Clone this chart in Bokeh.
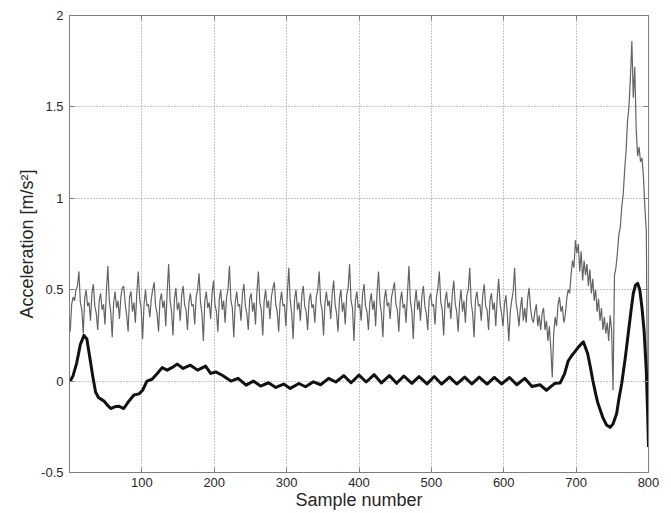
from bokeh.plotting import figure
from bokeh.models import Range1d, FixedTicker, LinearAxis, CustomJSTickFormatter
from bokeh.embed import file_html
from bokeh.resources import INLINE

X_TICKS = [100, 200, 300, 400, 500, 600, 700, 800]
Y_TICKS = [-0.5, 0, 0.5, 1, 1.5, 2]
X_LABEL = "Sample number"
Y_LABEL = "Acceleration [m/s\u00b2]"

# raw acceleration (grey), one value every 2 samples starting at sample 1
GRAY_START = 1
GRAY_STEP = 2
GRAY = [
    0.27, 0.42, 0.46, 0.44, 0.50, 0.52,
    0.60, 0.43, 0.39, 0.26, 0.45, 0.50, 0.41, 0.43, 0.33, 0.48,
    0.53, 0.41, 0.37, 0.28, 0.44, 0.48, 0.39, 0.42, 0.31, 0.49,
    0.63, 0.44, 0.38, 0.24, 0.43, 0.49, 0.40, 0.44, 0.34, 0.46, 0.51,
    0.52, 0.42, 0.36, 0.27, 0.46, 0.49, 0.38, 0.43, 0.32, 0.48,
    0.60, 0.45, 0.40, 0.23, 0.42, 0.50, 0.41, 0.42, 0.35, 0.45, 0.50,
    0.54, 0.41, 0.37, 0.27, 0.44, 0.48, 0.40, 0.44, 0.30, 0.49,
    0.64, 0.44, 0.38, 0.25, 0.45, 0.51, 0.39, 0.43, 0.33, 0.47,
    0.52, 0.42, 0.39, 0.28, 0.43, 0.48, 0.41, 0.42, 0.31, 0.46, 0.50,
    0.59, 0.43, 0.37, 0.22, 0.44, 0.49, 0.40, 0.43, 0.34, 0.48,
    0.55, 0.42, 0.38, 0.27, 0.45, 0.50, 0.39, 0.44, 0.32, 0.46, 0.50,
    0.63, 0.44, 0.40, 0.24, 0.43, 0.49, 0.41, 0.42, 0.33, 0.48,
    0.53, 0.41, 0.37, 0.28, 0.45, 0.48, 0.38, 0.43, 0.31, 0.49,
    0.60, 0.43, 0.39, 0.25, 0.44, 0.50, 0.40, 0.44, 0.34, 0.46, 0.51,
    0.54, 0.42, 0.38, 0.27, 0.43, 0.49, 0.41, 0.42, 0.30, 0.48,
    0.62, 0.44, 0.37, 0.23, 0.45, 0.50, 0.39, 0.43, 0.33, 0.47,
    0.52, 0.41, 0.38, 0.28, 0.44, 0.48, 0.40, 0.42, 0.32, 0.46, 0.50,
    0.60, 0.43, 0.39, 0.25, 0.43, 0.49, 0.41, 0.44, 0.34, 0.48,
    0.55, 0.42, 0.37, 0.27, 0.45, 0.50, 0.38, 0.43, 0.31, 0.47, 0.51,
    0.64, 0.44, 0.40, 0.22, 0.44, 0.49, 0.40, 0.42, 0.33, 0.48,
    0.53, 0.41, 0.38, 0.28, 0.43, 0.48, 0.39, 0.44, 0.30, 0.49,
    0.60, 0.43, 0.37, 0.24, 0.45, 0.50, 0.41, 0.43, 0.34, 0.46, 0.50,
    0.54, 0.42, 0.39, 0.27, 0.44, 0.49, 0.40, 0.42, 0.32, 0.48,
    0.63, 0.44, 0.38, 0.23, 0.43, 0.50, 0.39, 0.44, 0.33, 0.47,
    0.52, 0.41, 0.37, 0.28, 0.45, 0.48, 0.41, 0.42, 0.31, 0.46, 0.51,
    0.60, 0.43, 0.39, 0.25, 0.44, 0.49, 0.40, 0.43, 0.34, 0.48,
    0.55, 0.42, 0.38, 0.27, 0.43, 0.50, 0.38, 0.44, 0.32, 0.47, 0.50,
    0.62, 0.43, 0.37, 0.24, 0.45, 0.49, 0.41, 0.42, 0.33, 0.47,
    0.53, 0.41, 0.39, 0.28, 0.44, 0.48, 0.39, 0.43, 0.30, 0.46,
    0.56, 0.42, 0.37, 0.30, 0.42, 0.47, 0.36, 0.22, 0.38, 0.44, 0.49,
    0.62, 0.43, 0.38, 0.30, 0.40, 0.46, 0.33, 0.40, 0.32, 0.45,
    0.51, 0.40, 0.34, 0.32, 0.38, 0.42, 0.30, 0.36, 0.28, 0.37,
    0.40, 0.28, 0.33, 0.22, 0.30, 0.18, 0.02, 0.26, 0.35, 0.30,
    0.42, 0.46, 0.38, 0.41, 0.32, 0.36, 0.45, 0.50, 0.48, 0.58,
    0.66, 0.62, 0.77, 0.70, 0.75, 0.60, 0.71, 0.55, 0.66, 0.58,
    0.64, 0.52, 0.61, 0.48, 0.56, 0.44, 0.50, 0.38, 0.45, 0.33,
    0.40, 0.28, 0.35, 0.26, 0.32, 0.22, 0.36, 0.28, -0.05, 0.58,
    0.62, 0.70, 0.80, 0.84, 0.95, 1.02, 1.15, 1.26, 1.42, 1.50,
    1.66, 1.86, 1.55, 1.72, 1.38, 1.23, 1.28, 1.20, 1.22, 1.12,
    0.95, 0.82, -0.32,
]

# filtered acceleration (black)
BLACK_X = [
    1, 5, 10, 15, 20, 24, 28, 32, 36, 40, 44, 48, 52, 57, 63, 68, 75, 82, 89, 96,
    101, 107, 114, 121, 128, 135, 142, 149, 157, 167, 177, 188, 195, 202, 211, 223,
    233, 244, 254, 264, 275, 285, 296, 305, 317, 326, 337, 347, 358, 368, 379, 389,
    400, 410, 421, 431, 442, 452, 462, 473, 483, 494, 504, 514, 525, 535, 546, 556,
    566, 577, 587, 597, 608, 618, 629, 639, 650, 659, 665, 671, 678, 684, 689, 694,
    698, 704, 710, 716, 720, 723, 727, 730, 737, 742, 747, 751, 756, 759, 763, 768,
    772, 776, 779, 782, 785, 788, 791, 794, 797, 799, 800,
]
BLACK_Y = [
    0.0, 0.03, 0.10, 0.20, 0.25, 0.23, 0.13, 0.03, -0.06, -0.09, -0.10, -0.11, -0.13, -0.15, -0.14, -0.137, -0.15, -0.11, -0.076, -0.07,
    -0.05, 0.0, 0.01, 0.04, 0.074, 0.06, 0.075, 0.093, 0.069, 0.087, 0.06, 0.082, 0.042, 0.05, 0.032, 0.0,
    0.015, -0.022, 0.0, -0.027, -0.009, -0.035, -0.016, -0.04, -0.013, -0.031, -0.004, -0.02, 0.015, -0.005, 0.03, -0.009,
    0.033, -0.005, 0.035, -0.01, 0.03, -0.012, 0.028, -0.012, 0.025, -0.015, 0.025, -0.016, 0.022, -0.016, 0.022, -0.016,
    0.022, -0.016, 0.02, -0.015, 0.02, -0.02, 0.015, -0.03, -0.02, -0.05, -0.03, -0.012, -0.01, 0.04, 0.11, 0.14,
    0.16, 0.19, 0.215, 0.15, 0.07, 0.005, -0.07, -0.12, -0.20, -0.24, -0.253, -0.235, -0.177, -0.10, -0.013, 0.13,
    0.26, 0.39, 0.48, 0.525, 0.535, 0.50, 0.40, 0.27, 0.05, -0.20, -0.36,
]

gray_x = list(range(GRAY_START, GRAY_START + GRAY_STEP * len(GRAY), GRAY_STEP))

FONT = "Liberation Sans"
AX_COL = "#7f7f7f"
TXT_COL = "#262626"

p = figure(
    width=663, height=512,
    output_backend="svg", toolbar_location=None,
    x_range=Range1d(0, 800), y_range=Range1d(-0.5, 2),
    min_border_left=69, min_border_top=15, min_border_right=15, min_border_bottom=40,
    background_fill_color="white", border_fill_color="white",
)
p.outline_line_color = AX_COL
p.outline_line_width = 1

p.xaxis.ticker = FixedTicker(ticks=X_TICKS)
p.yaxis.ticker = FixedTicker(ticks=Y_TICKS)
p.xaxis.formatter = CustomJSTickFormatter(code="return tick.toString();")
p.yaxis.formatter = CustomJSTickFormatter(code="return tick.toString();")
p.xaxis.axis_label = X_LABEL
p.yaxis.axis_label = Y_LABEL

for ax in (p.xaxis[0], p.yaxis[0]):
    ax.axis_line_color = AX_COL
    ax.major_tick_line_color = AX_COL
    ax.major_tick_in = 5
    ax.major_tick_out = 0
    ax.minor_tick_line_color = None
    ax.major_label_text_font = FONT
    ax.major_label_text_font_size = "13px"
    ax.major_label_text_color = TXT_COL
    ax.axis_label_text_font = FONT
    ax.axis_label_text_font_size = "18px"
    ax.axis_label_text_font_style = "normal"
    ax.axis_label_text_color = TXT_COL

p.xaxis.major_label_standoff = 5
p.xaxis.axis_label_standoff = 0
p.yaxis.major_label_standoff = 6
p.yaxis.axis_label_standoff = 1

for loc, ticks in (("right", Y_TICKS), ("above", X_TICKS)):
    ax = LinearAxis(
        ticker=FixedTicker(ticks=ticks),
        formatter=CustomJSTickFormatter(code="return '';"),
        axis_line_color=AX_COL, major_tick_line_color=AX_COL,
        major_tick_in=5, major_tick_out=0, minor_tick_line_color=None,
        major_label_standoff=0,
    )
    p.add_layout(ax, loc)

p.xgrid.ticker = FixedTicker(ticks=X_TICKS)
p.ygrid.ticker = FixedTicker(ticks=Y_TICKS)
p.grid.grid_line_color = "#8a8a8a"
p.grid.grid_line_dash = "1 2"
p.grid.grid_line_width = 1

p.line(gray_x, GRAY, line_color="#636363", line_width=1.2)
p.line(BLACK_X, BLACK_Y, line_color="#111111", line_width=3, line_join="round")

open("out.html", "w").write(file_html(p, INLINE))
